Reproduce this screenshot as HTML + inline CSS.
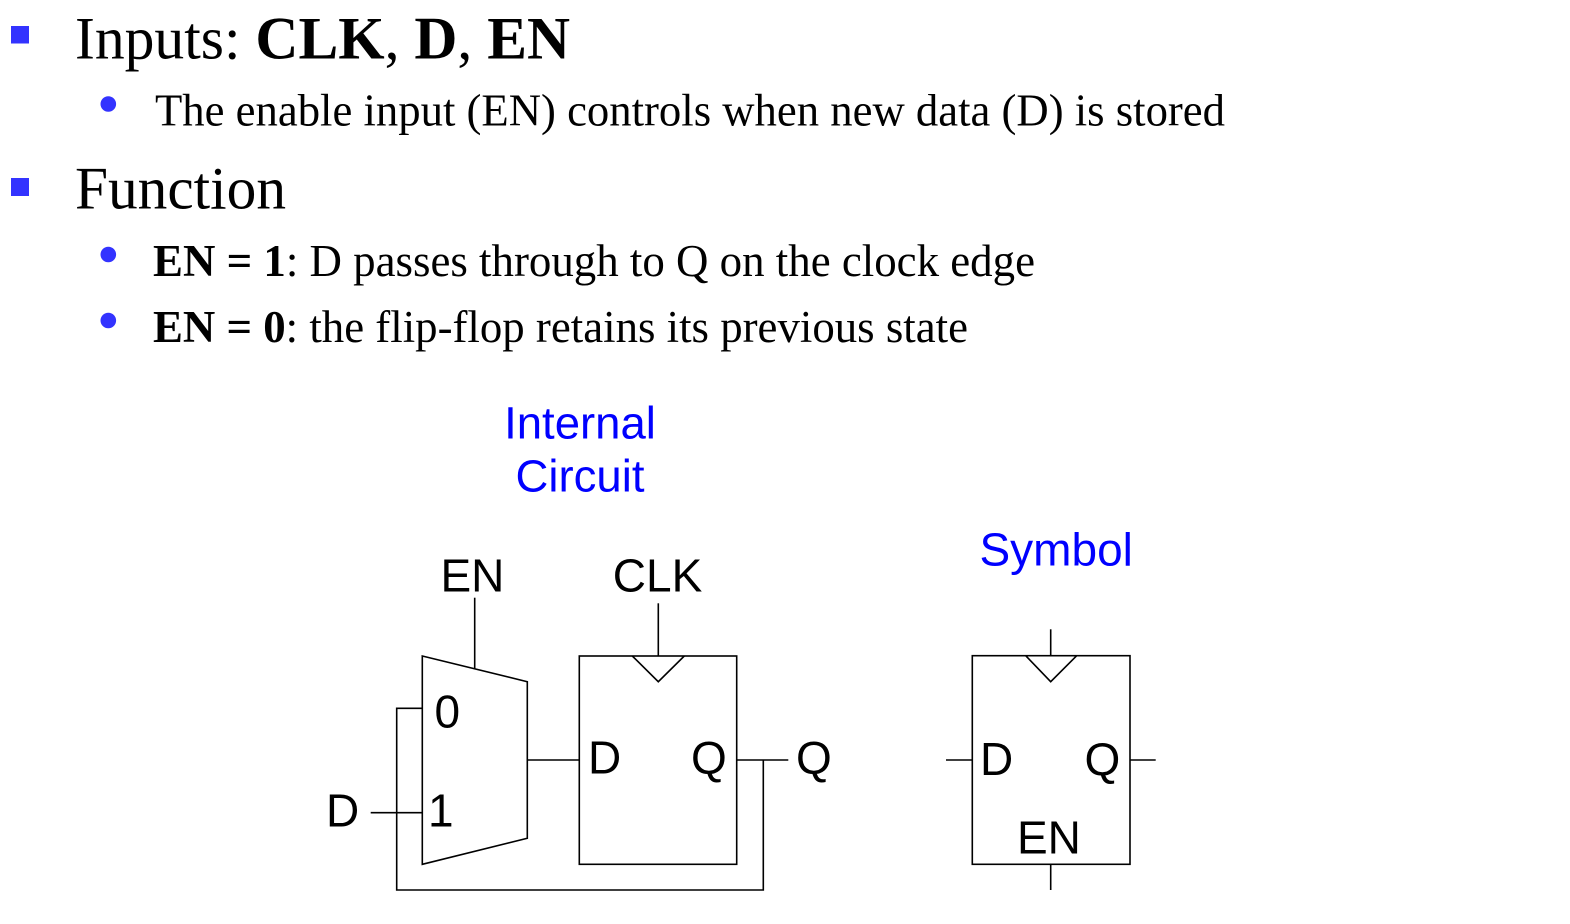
<!DOCTYPE html>
<html>
<head>
<meta charset="utf-8">
<style>
html,body{margin:0;padding:0;background:#fff;}
svg{display:block;}
.serif{font-family:"Liberation Serif","Times New Roman",serif;}
.sans{font-family:"Liberation Sans",Arial,sans-serif;}
</style>
</head>
<body>
<svg width="1570" height="924" viewBox="0 0 1570 924" xmlns="http://www.w3.org/2000/svg">
  <!-- bullets -->
  <rect x="11" y="26" width="18" height="17.5" fill="#3333ff"/>
  <rect x="11" y="178" width="18" height="18" fill="#3333ff"/>
  <circle cx="108.3" cy="104" r="7.8" fill="#3333ff"/>
  <circle cx="108.3" cy="254.5" r="7.8" fill="#3333ff"/>
  <circle cx="108.3" cy="320.5" r="7.8" fill="#3333ff"/>

  <!-- top text -->
  <text class="serif" x="75" y="58.5" font-size="60" fill="#000" textLength="495" lengthAdjust="spacingAndGlyphs">Inputs: <tspan font-weight="bold">CLK</tspan>, <tspan font-weight="bold">D</tspan>, <tspan font-weight="bold">EN</tspan></text>
  <text class="serif" x="155" y="125.5" font-size="45" fill="#000" textLength="1070" lengthAdjust="spacingAndGlyphs">The enable input (EN) controls when new data (D) is stored</text>
  <text class="serif" x="75" y="208.5" font-size="60" fill="#000" textLength="211" lengthAdjust="spacingAndGlyphs">Function</text>
  <text class="serif" x="153" y="276" font-size="45" fill="#000" textLength="882" lengthAdjust="spacingAndGlyphs"><tspan font-weight="bold">EN = 1</tspan>: D passes through to Q on the clock edge</text>
  <text class="serif" x="153" y="342" font-size="45" fill="#000" textLength="815" lengthAdjust="spacingAndGlyphs"><tspan font-weight="bold">EN = 0</tspan>: the flip-flop retains its previous state</text>

  <!-- headings -->
  <text class="sans" x="580" y="438.3" font-size="45.5" fill="#0000ff" text-anchor="middle">Internal</text>
  <text class="sans" x="580" y="491.7" font-size="45.5" fill="#0000ff" text-anchor="middle">Circuit</text>
  <text class="sans" x="979.5" y="565.7" font-size="46" fill="#0000ff">Symbol</text>

  <!-- internal circuit -->
  <g stroke="#000" stroke-width="1.6" fill="none">
    <polygon points="422.3,656 527.3,681.7 527.3,838.3 422.3,864.3"/>
    <line x1="474.7" y1="597.7" x2="474.7" y2="668.8"/>
    <rect x="579.3" y="656" width="157.4" height="208.3"/>
    <line x1="658.3" y1="603.3" x2="658.3" y2="656"/>
    <polyline points="632.3,656 658.3,681.7 684.3,656"/>
    <line x1="527.3" y1="760" x2="579.3" y2="760"/>
    <line x1="736.7" y1="760" x2="788.3" y2="760"/>
    <polyline points="763.3,760 763.3,890 396.7,890 396.7,708.3 422.3,708.3"/>
    <line x1="370.7" y1="812.7" x2="422.3" y2="812.7"/>
  </g>
  <g class="sans" font-size="46" fill="#000">
    <text x="440.5" y="591.7">EN</text>
    <text x="612.8" y="591.7">CLK</text>
    <text x="434.5" y="727.3">0</text>
    <text x="428" y="826.7">1</text>
    <text x="588" y="773.3">D</text>
    <text x="691" y="773.3">Q</text>
    <text x="796" y="773.3">Q</text>
    <text x="326" y="826.5">D</text>
  </g>

  <!-- symbol -->
  <g stroke="#000" stroke-width="1.6" fill="none">
    <rect x="972.3" y="655.7" width="157.7" height="208.6"/>
    <line x1="1050.7" y1="629.3" x2="1050.7" y2="655.7"/>
    <polyline points="1025.7,655.7 1050.7,681.7 1076.7,655.7"/>
    <line x1="946" y1="760" x2="972.3" y2="760"/>
    <line x1="1130" y1="760" x2="1155.7" y2="760"/>
    <line x1="1050.7" y1="864.3" x2="1050.7" y2="890"/>
  </g>
  <g class="sans" font-size="46" fill="#000">
    <text x="980" y="775">D</text>
    <text x="1084.5" y="775">Q</text>
    <text x="1017" y="853.3">EN</text>
  </g>
</svg>
</body>
</html>
